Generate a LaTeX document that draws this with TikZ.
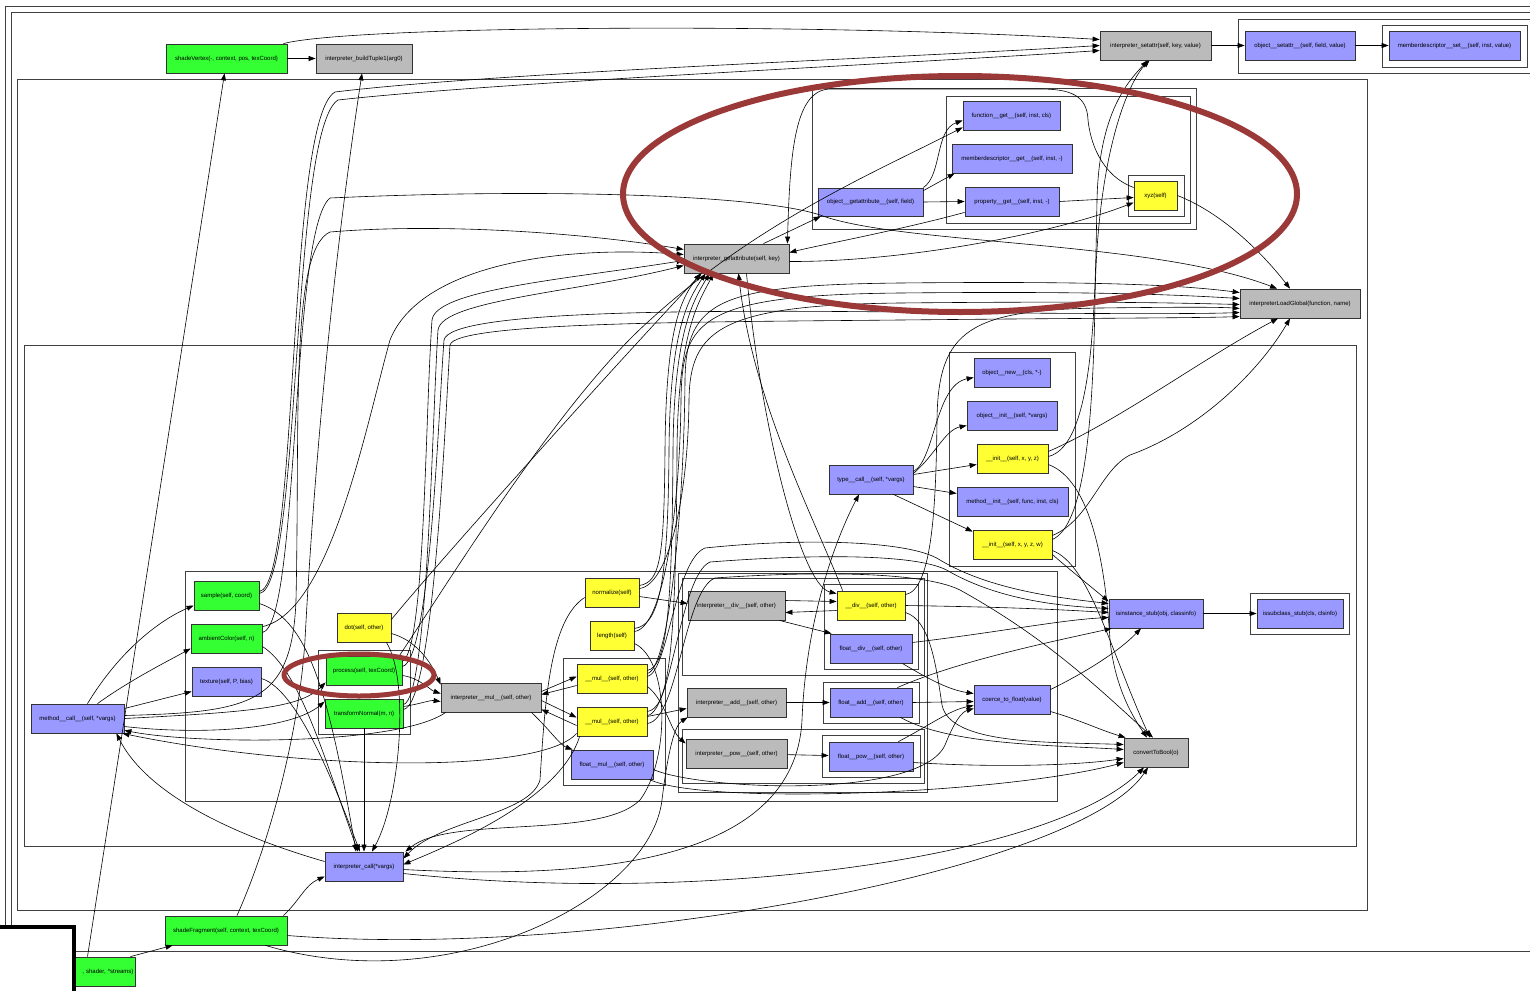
\documentclass[tikz,border=0pt]{standalone}
\usepackage{fontspec}
\setmainfont{Liberation Sans}
\usetikzlibrary{arrows.meta,calc}
\definecolor{cgreen}{HTML}{33FF33}
\definecolor{cyel}{HTML}{FFFF33}
\definecolor{cblue}{HTML}{9999FF}
\definecolor{cgray}{HTML}{BBBBBB}
\definecolor{cred}{HTML}{9B3838}
\begin{document}
\begin{tikzpicture}[x=1pt,y=-1pt,
 fn/.style={draw=black!80, line width=0.8pt, inner sep=0pt, minimum height=29pt, font=\fontsize{6}{7}\selectfont, anchor=center},
 gr/.style={fn, fill=cgreen}, ye/.style={fn, fill=cyel}, bl/.style={fn, fill=cblue}, gy/.style={fn, fill=cgray},
 ed/.style={-{Triangle[length=7pt,width=5pt]}, line width=0.6pt},
 clu/.style={draw=black!75, line width=0.9pt},
 ring/.style={draw=cred, line width=6pt}]
\useasboundingbox (0,0) rectangle (1530,990);
\clip (0,0) rectangle (1530,990);
% clusters
\draw[clu] (5,6) rectangle (1545,1000);
\draw[clu] (11,12) rectangle (1545,951);
\draw[clu] (1238,19) rectangle (1545,73);
\draw[clu] (1382,25) rectangle (1527,67);
\draw[clu] (17,79) rectangle (1367,910);
\draw[clu] (812,88) rectangle (1196,229);
\draw[clu] (946,96) rectangle (1190,223);
\draw[clu] (1128,175) rectangle (1184,216);
\draw[clu] (24,345) rectangle (1356,846);
\draw[clu] (949,352) rectangle (1075,566);
\draw[clu] (1250,593) rectangle (1349,634);
\draw[clu] (185,571) rectangle (1057,801);
\draw[clu] (318,650) rectangle (410,734);
\draw[clu] (563,658) rectangle (665,785);
\draw[clu] (678,573) rectangle (927,792);
\draw[clu] (682,578) rectangle (924,675);
\draw[clu] (824,584) rectangle (918,669);
\draw[clu] (823,682) rectangle (919,723);
\draw[clu] (682,729) rectangle (924,783);
\draw[clu] (822,735) rectangle (920,777);
% nodes
\node[gr, minimum width=121pt] (sv) at (226.5,58.5) {shadeVertex(-, context, pos, texCoord)};
\node[gy, minimum width=96pt] (bt) at (364,58.5) {interpreter\_buildTuple1(arg0)};
\node[gy, minimum width=111pt] (sa) at (1155.5,45.5) {interpreter\_setattr(self, key, value)};
\node[bl, minimum width=110pt] (os) at (1300,45.5) {object\_\_setattr\_\_(self, field, value)};
\node[bl, minimum width=131pt] (ms) at (1454.5,45.5) {memberdescriptor\_\_set\_\_(self, inst, value)};
\node[bl, minimum width=97pt] (fg) at (1011.5,115.5) {function\_\_get\_\_(self, inst, cls)};
\node[bl, minimum width=120pt] (mg) at (1012,158.5) {memberdescriptor\_\_get\_\_(self, inst, -)};
\node[bl, minimum width=94pt] (pg) at (1012,201.5) {property\_\_get\_\_(self, inst, -)};
\node[bl, minimum width=105pt, minimum height=28pt] (og) at (870.5,202) {object\_\_getattribute\_\_(self, field)};
\node[ye, minimum width=43pt] (xyz) at (1155.5,195.5) {xyz(self)};
\node[gy, minimum width=105pt] (ga) at (736.5,258.5) {interpreter\_getattribute(self, key)};
\node[gy, minimum width=120pt] (lg) at (1300,303.5) {interpreterLoadGlobal(function, name)};
\node[bl, minimum width=76pt] (on) at (1012,372.5) {object\_\_new\_\_(cls, *-)};
\node[bl, minimum width=90pt] (oi) at (1012,415.5) {object\_\_init\_\_(self, *vargs)};
\node[ye, minimum width=71pt] (i3) at (1012.5,458.5) {\_\_init\_\_(self, x, y, z)};
\node[bl, minimum width=111pt] (mi) at (1012.5,501.5) {method\_\_init\_\_(self, func, inst, cls)};
\node[ye, minimum width=79pt] (i4) at (1012.5,544.5) {\_\_init\_\_(self, x, y, z, w)};
\node[bl, minimum width=84pt] (tc) at (871,479.5) {type\_\_call\_\_(self, *vargs)};
\node[bl, minimum width=94pt] (is) at (1156,613.5) {isinstance\_stub(obj, classinfo)};
\node[bl, minimum width=86pt] (ib) at (1300,613.5) {issubclass\_stub(cls, clsinfo)};
\node[gr, minimum width=65pt] (smp) at (226.5,595.5) {sample(self, coord)};
\node[gr, minimum width=71pt] (amb) at (226.5,638.5) {ambientColor(self, n)};
\node[bl, minimum width=69pt] (tex) at (226.5,681.5) {texture(self, P, bias)};
\node[bl, minimum width=93pt] (mc) at (77.5,718.5) {method\_\_call\_\_(self, *vargs)};
\node[ye, minimum width=54pt] (dot) at (364,627.5) {dot(self, other)};
\node[gr, minimum width=76pt] (prc) at (364,670.5) {process(self, texCoord)};
\node[gr, minimum width=78pt] (tn) at (364,713.5) {transformNormal(m, n)};
\node[gy, minimum width=100pt] (im) at (491,697.5) {interpreter\_\_mul\_\_(self, other)};
\node[ye, minimum width=54pt] (nrm) at (612,592.5) {normalize(self)};
\node[ye, minimum width=44pt] (len) at (612,635.5) {length(self)};
\node[ye, minimum width=70pt] (m1) at (612,678.5) {\_\_mul\_\_(self, other)};
\node[ye, minimum width=70pt] (m2) at (612,721.5) {\_\_mul\_\_(self, other)};
\node[bl, minimum width=82pt] (fm) at (612,764.5) {float\_\_mul\_\_(self, other)};
\node[gy, minimum width=97pt] (idv) at (736.5,605.5) {interpreter\_\_div\_\_(self, other)};
\node[gy, minimum width=99pt] (iad) at (736.5,702.5) {interpreter\_\_add\_\_(self, other)};
\node[gy, minimum width=101pt] (ipw) at (736.5,753.5) {interpreter\_\_pow\_\_(self, other)};
\node[ye, minimum width=68pt] (dv) at (871,605.5) {\_\_div\_\_(self, other)};
\node[bl, minimum width=82pt] (fd) at (871,648.5) {float\_\_div\_\_(self, other)};
\node[bl, minimum width=82pt] (fa) at (871,702.5) {float\_\_add\_\_(self, other)};
\node[bl, minimum width=84pt] (fp) at (871,756.5) {float\_\_pow\_\_(self, other)};
\node[bl, minimum width=76pt] (cf) at (1012,699.5) {coerce\_to\_float(value)};
\node[gy, minimum width=64pt] (cb) at (1156,752.5) {convertToBool(o)};
\node[bl, minimum width=78pt] (ic) at (364,866.5) {interpreter\_call(*vargs)};
\node[gr, minimum width=122pt] (sf) at (226,930.5) {shadeFragment(self, context, texCoord)};
\node[gr, minimum width=115pt, text width=112pt, align=right] (st) at (77.5,971.5) {, shader, *streams)};
% ---- edges: top
\draw[ed] (sv) -- (bt);
\draw[ed] ($(sv.north east)+(-4,0)$) .. controls (350,26) and (800,22) .. ($(sa.west)+(0,-6)$);
\draw[ed] (sa) -- (os);
\draw[ed] (os) -- (ms);
\draw[ed] ($(st.north)+(10,0)$) -- ($(sv.south)+(-2,0)$);
\draw[ed] ($(st.north east)+(-5,0)$) -- ($(sf.south west)+(8,0)$);
\draw[ed] ($(sf.north)+(11,0)$) .. controls (275,830) and (300,720) .. (305,640) .. controls (315,450) and (335,250) .. ($(bt.south)+(-2,0)$);
\draw[ed] ($(smp.east)+(0,-4)$) .. controls (300,585) and (286,120) .. (335,92) .. controls (500,72) and (900,58) .. (sa.west);
\draw[ed] ($(smp.east)+(0,-2)$) .. controls (302,588) and (290,130) .. (338,100) .. controls (500,82) and (900,64) .. ($(sa.west)+(0,5)$);
\draw[ed] ($(amb.east)+(0,-6)$) .. controls (300,625) and (290,230) .. (330,198) .. controls (550,188) and (760,195) .. (820,215) .. controls (900,245) and (1150,240) .. ($(lg.north)+(-23,0)$);
\draw[ed] ($(mc.east)+(0,-3)$) .. controls (250,712) and (292,705) .. (296,600) .. controls (300,420) and (290,250) .. (330,232) .. controls (450,222) and (600,235) .. ($(ga.west)+(0,-9)$);
\draw[ed] ($(amb.north east)+(0,3)$) .. controls (330,612) and (365,430) .. (390,340) .. controls (420,265) and (560,245) .. ($(ga.west)+(0,-4)$);
\draw[ed] ($(dot.east)+(0,-8)$) .. controls (440,560) and (620,360) .. ($(ga.south west)+(18,0)$);
\draw[ed] ($(prc.east)+(0,-9)$) .. controls (425,650) and (425,420) .. (432,320) .. controls (436,290) and (560,280) .. ($(ga.west)+(0,2)$);
\draw[ed] ($(tn.east)+(0,-9)$) .. controls (428,700) and (432,420) .. (438,330) .. controls (442,300) and (580,292) .. ($(ga.west)+(0,7)$);
\draw[ed] ($(prc.east)+(0,-4)$) .. controls (430,660) and (438,420) .. (444,340) .. controls (450,310) and (700,310) .. (900,312) .. controls (1100,314) and (1200,314) .. ($(lg.west)+(0,9)$);
\draw[ed] ($(tn.east)+(0,-4)$) .. controls (434,705) and (445,420) .. (450,345) .. controls (455,322) and (700,322) .. (900,320) .. controls (1100,318) and (1200,318) .. ($(lg.west)+(0,13)$);
\draw[ed] ($(prc.north east)+(-3,0)$) .. controls (450,580) and (560,400) .. (650,320) .. controls (760,220) and (880,170) .. ($(fg.south west)+(0,-3)$);
% getattr cluster
\draw[ed] ($(ga.north)+(27,0)$) -- ($(og.south west)+(3,0)$);
\draw[ed] (og.north east) .. controls (942,175) and (935,130) .. ($(fg.west)+(0,5)$);
\draw[ed] ($(og.north east)+(0,3)$) -- ($(mg.south west)+(3,0)$);
\draw[ed] (og.east) -- (pg.west);
\draw[ed] (pg.east) -- ($(xyz.west)+(0,2)$);
\draw[ed] ($(pg.south west)+(0,-4)$) .. controls (900,230) and (820,245) .. ($(ga.east)+(0,-6)$);
\draw[ed] ($(xyz.west)+(0,-8)$) .. controls (1100,175) and (1090,140) .. (1088,120) .. controls (1087,95) and (1070,89) .. (1040,89) -- (830,89) .. controls (795,90) and (790,150) .. ($(ga.north east)+(-2,0)$);
\draw[ed] ($(ga.east)+(0,3)$) .. controls (900,262) and (1050,235) .. ($(xyz.west)+(0,7)$);
\draw[ed] (xyz.east) .. controls (1220,212) and (1260,250) .. ($(lg.north)+(-10,0)$);
% middle bundle
\draw[ed] ($(nrm.east)+(0,-7)$) .. controls (660,582) and (664,560) .. (665,450) .. controls (666,330) and (680,300) .. ($(ga.south)+(-36,0)$);
\draw[ed] ($(len.east)+(0,-7)$) .. controls (658,625) and (668,590) .. (669,450) .. controls (670,330) and (688,300) .. ($(ga.south)+(-31,0)$);
\draw[ed] ($(m1.east)+(0,-8)$) .. controls (666,666) and (672,620) .. (673,450) .. controls (674,330) and (694,300) .. ($(ga.south)+(-27,0)$);
\draw[ed] ($(m2.east)+(0,-10)$) .. controls (668,708) and (676,660) .. (677,450) .. controls (678,330) and (700,300) .. ($(ga.south)+(-23,0)$);
\draw[ed] ($(m1.east)+(0,-5)$) .. controls (670,668) and (684,500) .. (685,380) .. controls (686,300) and (720,285) .. (900,283) .. controls (1100,281) and (1180,285) .. ($(lg.west)+(0,-11)$);
\draw[ed] ($(len.east)+(0,-4)$) .. controls (665,628) and (680,500) .. (681,400) .. controls (682,320) and (700,295) .. (900,293) .. controls (1100,291) and (1180,295) .. ($(lg.west)+(0,-5)$);
\draw[ed] ($(nrm.east)+(0,-4)$) .. controls (668,585) and (688,500) .. (689,400) .. controls (690,330) and (720,305) .. (900,303) .. controls (1100,301) and (1180,303) .. ($(lg.west)+(0,1)$);
\draw[ed] ($(dv.north east)+(0,4)$) .. controls (933,590) and (936,500) .. (937,420) .. controls (938,330) and (970,310) .. (1100,308) .. controls (1180,307) and (1220,307) .. ($(lg.west)+(0,5)$);
\draw[ed] ($(m1.east)+(0,-2)$) .. controls (668,672) and (675,560) .. (705,548) .. controls (800,538) and (910,540) .. (940,560) .. controls (990,590) and (1060,598) .. ($(is.west)+(0,-10)$);
\draw[ed] ($(m2.east)+(0,-6)$) .. controls (672,712) and (680,575) .. (710,562) .. controls (800,555) and (920,552) .. (950,572) .. controls (1000,600) and (1060,606) .. ($(is.west)+(0,-5)$);
\draw[ed] ($(m2.east)+(0,2)$) .. controls (678,720) and (684,590) .. (715,578) .. controls (800,572) and (920,570) .. (960,590) .. controls (1050,640) and (1100,690) .. ($(cb.north)+(-3,0)$);
% div cluster
\draw[ed] ($(nrm.east)+(0,4)$) -- ($(idv.west)+(0,-2)$);
\draw[ed] ($(idv.east)+(0,-5)$) -- ($(dv.west)+(0,-4)$);
\draw[ed] ($(dv.west)+(0,5)$) -- ($(idv.east)+(0,7)$);
\draw[ed] ($(idv.south east)+(-6,0)$) -- ($(fd.north west)+(2,0)$);
\draw[ed] (dv.east) .. controls (1000,607) and (1050,609) .. ($(is.west)+(0,-1)$);
\draw[ed] ($(fd.east)+(0,-6)$) .. controls (1000,632) and (1060,620) .. ($(is.west)+(0,4)$);
\draw[ed] ($(dv.east)+(0,7)$) .. controls (930,620) and (936,665) .. (942,705) .. controls (950,745) and (1050,742) .. ($(cb.west)+(0,-8)$);
\draw[ed] ($(ga.south)+(10,0)$) .. controls (760,420) and (800,585) .. ($(dv.north west)+(0,3)$);
\draw[ed] ($(dv.north west)+(6,0)$) .. controls (815,520) and (752,400) .. ($(ga.south)+(2,0)$);
% type call
\draw[ed] ($(tc.east)+(0,-8)$) .. controls (935,460) and (935,385) .. ($(on.west)+(0,5)$);
\draw[ed] ($(tc.east)+(0,-6)$) .. controls (935,455) and (945,430) .. ($(oi.west)+(0,10)$);
\draw[ed] ($(tc.east)+(0,-5)$) -- ($(i3.west)+(0,6)$);
\draw[ed] ($(tc.east)+(0,7)$) -- ($(mi.west)+(0,-8)$);
\draw[ed] ($(tc.south east)+(-20,0)$) -- ($(i4.north west)+(0,2)$);
\draw[ed] ($(i3.east)+(0,-2)$) .. controls (1095,445) and (1095,300) .. (1097,200) .. controls (1099,110) and (1130,80) .. ($(sa.south)+(-8,0)$);
\draw[ed] ($(i4.east)+(0,-5)$) .. controls (1085,525) and (1093,420) .. (1095,300) .. controls (1097,150) and (1130,80) .. ($(sa.south)+(-6,0)$);
\draw[ed] ($(i3.east)+(0,-7)$) .. controls (1120,420) and (1200,360) .. ($(lg.south)+(-22,0)$);
\draw[ed] ($(i4.east)+(0,-9)$) .. controls (1090,520) and (1100,470) .. (1130,455) .. controls (1200,430) and (1260,370) .. ($(lg.south)+(-10,0)$);
\draw[ed] ($(i3.east)+(0,6)$) .. controls (1090,480) and (1105,560) .. (1110,640) .. controls (1115,690) and (1135,720) .. ($(cb.north)+(-9,0)$);
\draw[ed] ($(i4.east)+(0,6)$) .. controls (1090,565) and (1110,650) .. ($(cb.north)+(-6,0)$);
\draw[ed] ($(i4.east)+(0,10)$) .. controls (1070,570) and (1095,590) .. ($(is.west)+(0,-12)$);
\draw[ed] (is) -- (ib);
% mul cluster
\draw[ed] ($(im.east)+(0,-6)$) -- ($(m1.west)+(0,-2)$);
\draw[ed] ($(m1.west)+(0,7)$) -- ($(im.east)+(0,-3)$);
\draw[ed] ($(im.east)+(0,3)$) -- ($(m2.west)+(0,-4)$);
\draw[ed] ($(m2.west)+(0,4)$) -- ($(im.south east)+(0,-3)$);
\draw[ed] ($(im.south east)+(-10,0)$) .. controls (550,730) and (560,745) .. ($(fm.north west)+(2,0)$);
\draw[ed] ($(dot.east)+(0,6)$) .. controls (415,640) and (430,660) .. ($(im.north west)+(0,2)$);
\draw[ed] ($(prc.east)+(0,5)$) .. controls (420,678) and (430,690) .. ($(im.west)+(0,-4)$);
\draw[ed] ($(tn.east)+(0,-7)$) .. controls (420,704) and (430,700) .. ($(im.west)+(0,4)$);
\draw[ed] ($(m2.east)+(0,-5)$) -- ($(iad.west)+(0,6)$);
\draw[ed] ($(m1.east)+(0,8)$) .. controls (665,700) and (670,730) .. ($(ipw.west)+(0,-10)$);
\draw[ed] (iad) -- (fa);
\draw[ed] (ipw) -- (fp);
\draw[ed] ($(sf.south east)+(-22,0)$) .. controls (450,1000) and (650,900) .. (662,800) .. controls (668,750) and (675,725) .. ($(iad.south west)+(1,0)$);
% floats
\draw[ed] (fa.east) -- ($(cf.west)+(0,2)$);
\draw[ed] ($(fp.north east)+(-15,0)$) .. controls (930,725) and (950,710) .. ($(cf.west)+(0,6)$);
\draw[ed] ($(fd.south east)+(-10,0)$) .. controls (930,680) and (950,690) .. ($(cf.west)+(0,-6)$);
\draw[ed] ($(fm.east)+(0,5)$) .. controls (700,790) and (920,800) .. (945,745) .. controls (955,720) and (962,712) .. ($(cf.west)+(0,9)$);
\draw[ed] ($(fa.north east)+(-15,0)$) .. controls (960,660) and (1060,640) .. ($(is.south west)+(3,0)$);
\draw[ed] ($(fa.south east)+(-12,0)$) .. controls (950,745) and (1050,745) .. ($(cb.west)+(0,-3)$);
\draw[ed] ($(fp.east)+(0,6)$) .. controls (1000,768) and (1080,765) .. ($(cb.west)+(0,6)$);
\draw[ed] ($(fm.south east)+(-4,0)$) .. controls (700,805) and (1000,795) .. ($(cb.west)+(0,10)$);
\draw[ed] ($(cf.north east)+(0,5)$) .. controls (1090,670) and (1120,650) .. ($(is.south)+(-15,0)$);
\draw[ed] ($(cf.east)+(0,12)$) .. controls (1080,720) and (1100,730) .. ($(cb.north west)+(2,0)$);
% method call / interpreter call
\draw[ed] ($(mc.north)+(10,0)$) .. controls (120,650) and (160,620) .. ($(smp.west)+(0,10)$);
\draw[ed] ($(mc.north)+(20,0)$) .. controls (130,680) and (170,660) .. ($(amb.west)+(0,10)$);
\draw[ed] ($(mc.east)+(0,-10)$) -- ($(tex.west)+(0,10)$);
\draw[ed] (mc.east) .. controls (250,712) and (300,708) .. ($(prc.south west)+(0,-3)$);
\draw[ed] ($(mc.east)+(0,8)$) .. controls (200,735) and (290,730) .. ($(tn.north west)+(0,3)$);
\draw[ed] ($(im.south west)+(5,0)$) .. controls (400,745) and (200,745) .. ($(mc.south east)+(0,-3)$);
\draw[ed] ($(m2.south west)+(0,-3)$) .. controls (540,775) and (300,770) .. ($(mc.south east)+(-2,0)$);
\draw[ed] ($(ic.west)+(0,-5)$) .. controls (250,840) and (150,800) .. ($(mc.south east)+(-8,0)$);
\draw[ed] ($(sf.north east)+(-4,0)$) .. controls (300,900) and (305,885) .. ($(ic.west)+(0,10)$);
\draw[ed] ($(smp.east)+(0,8)$) .. controls (310,620) and (330,700) .. ($(ic.north)+(-8,0)$);
\draw[ed] ($(amb.east)+(0,8)$) .. controls (300,670) and (325,760) .. ($(ic.north)+(-6,0)$);
\draw[ed] ($(tex.east)+(0,-3)$) .. controls (300,690) and (340,800) .. ($(ic.north)+(-4,0)$);
\draw[ed] ($(dot.south east)+(-5,0)$) .. controls (410,680) and (400,800) .. ($(ic.north)+(8,0)$);
\draw[ed] (tn) -- (ic);
\draw[ed] ($(len.east)+(0,8)$) .. controls (670,660) and (670,760) .. (640,800) .. controls (600,840) and (450,815) .. ($(ic.north east)+(2,0)$);
\draw[ed] ($(nrm.west)+(0,5)$) .. controls (550,620) and (545,700) .. (540,780) .. controls (530,815) and (440,820) .. ($(ic.east)+(0,-8)$);
\draw[ed] ($(m2.south west)+(3,0)$) .. controls (560,800) and (450,845) .. ($(ic.east)+(0,-2)$);
\draw[ed] ($(ic.east)+(0,3)$) .. controls (600,880) and (795,860) .. (802,720) .. controls (806,620) and (835,540) .. ($(tc.south)+(-12,0)$);
\draw[ed] ($(ic.east)+(0,7)$) .. controls (700,905) and (1050,860) .. ($(cb.south)+(-12,0)$);
\draw[ed] ($(sf.east)+(0,5)$) .. controls (600,960) and (1080,870) .. ($(cb.south)+(-8,0)$);
% highlight rings
\draw[ring] (960,194) ellipse [x radius=337, y radius=118];
\draw[ring, line width=5pt] (359,675) ellipse [x radius=75, y radius=21];
% cropped corner
\fill[white] (-10,927) rectangle (74,1000);
\draw[line width=4.5pt] (-10,927) -- (74,927) -- (74,1000);
\end{tikzpicture}
\end{document}
